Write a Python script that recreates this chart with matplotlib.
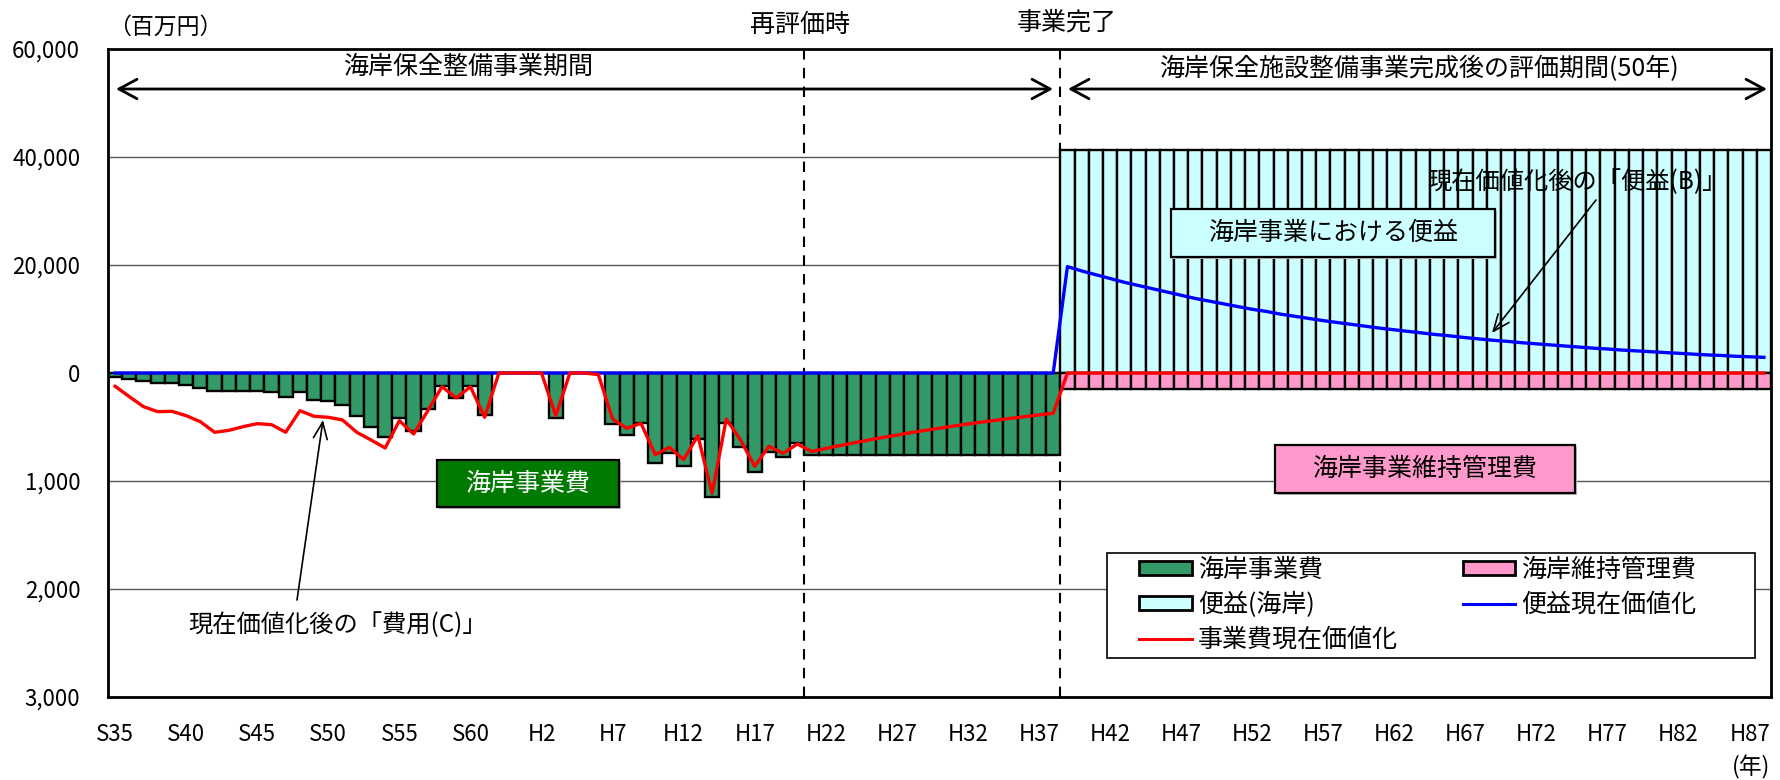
import numpy as np
import matplotlib
matplotlib.use("Agg")
import matplotlib.pyplot as plt
from matplotlib.patches import Patch, Rectangle
from matplotlib.lines import Line2D
from matplotlib.ticker import FuncFormatter, FixedLocator

plt.rcParams['font.family'] = ['Noto Sans CJK JP', 'DejaVu Sans']

# ---------------- data ----------------
# years S35 (1960) ... H88 (2076)
years = list(range(1960, 2077))
tick_labels = ['S35', 'S40', 'S45', 'S50', 'S55', 'S60', 'H2', 'H7', 'H12', 'H17',
               'H22', 'H27', 'H32', 'H37', 'H42', 'H47', 'H52', 'H57', 'H62', 'H67',
               'H72', 'H77', 'H82', 'H87']

# 海岸事業費 (百万円), 1960-2026
project_cost = [34, 56, 77, 93, 93, 108, 139, 170, 170, 170,
                170, 179, 225, 179, 250, 256, 293, 395, 497, 596,
                417, 540, 333, 117, 235, 117, 386, 0, 0, 0,
                0, 417, 0, 0, 0, 472, 571, 466, 836, 744,
                858, 611, 1145, 466, 688, 914, 735, 781, 651, 756,
                756, 756, 756, 756, 756, 756, 756, 756, 756, 756,
                756, 756, 756, 756, 756, 756, 756]

# 便益(海岸) (百万円), 2027-2076
benefit = [41300] * 50
# 海岸維持管理費 (百万円), 2027-2076
maintenance = [150] * 50

# 便益現在価値化 (百万円), 1960-2076
benefit_pv = [0] * 67 + [
    19700, 18900, 18200, 17500, 16800, 16200, 15600, 15000, 14400, 13800,
    13300, 12800, 12300, 11800, 11400, 10900, 10500, 10100, 9700, 9350,
    9000, 8650, 8300, 8000, 7700, 7400, 7100, 6850, 6550, 6300,
    6050, 5850, 5600, 5400, 5200, 5000, 4800, 4600, 4450, 4250,
    4100, 3950, 3800, 3650, 3500, 3350, 3250, 3100, 3000, 2900]

# 事業費現在価値化 (百万円), 1960-2076
cost_pv = [123, 219, 312, 358, 355, 395, 451, 549, 531, 497,
           469, 478, 549, 349, 401, 410, 435, 549, 620, 694,
           441, 565, 349, 127, 231, 127, 410, 0, 0, 0,
           0, 395, 0, 0, 15, 426, 512, 466, 756, 688,
           802, 580, 1114, 426, 620, 864, 679, 744, 657, 727,
           699, 672, 646, 621, 597, 575, 552, 531, 511, 491,
           472, 454, 437, 420, 404, 388, 373] + [0] * 50

# ---------------- figure ----------------
W, H = 1780, 780
fig = plt.figure(figsize=(W / 100, H / 100), dpi=100)


def fx(px):
    return px / W


def fy(py):
    return 1 - py / H


L, R, T, B = 108, 1771, 49, 697
ax = fig.add_axes([fx(L), fy(B), (R - L) / W, (B - T) / H])


def fwd(y):
    y = np.asarray(y, dtype=float)
    return np.where(y >= 0, y, y * 20.0)


def inv(y):
    y = np.asarray(y, dtype=float)
    return np.where(y >= 0, y, y / 20.0)


ax.set_yscale('function', functions=(fwd, inv))
ax.set_ylim(-3000, 60000)
ax.set_xlim(-0.5, len(years) - 0.5)

x_all = np.arange(len(years))
n_cost = len(project_cost)
x_cost = x_all[:n_cost]
x_ben = x_all[n_cost:n_cost + len(benefit)]

GREEN = '#339966'
CYAN = '#CCFFFF'
PINK = '#FF99CC'

ax.bar(x_cost, -np.array(project_cost), width=1.0, color=GREEN,
       edgecolor='black', linewidth=1.7, zorder=2)
ax.bar(x_ben, benefit, width=1.0, color=CYAN,
       edgecolor='black', linewidth=1.7, zorder=2)
ax.bar(x_ben, -np.array(maintenance), width=1.0, color=PINK,
       edgecolor='black', linewidth=1.7, zorder=2)

ax.plot(x_all, benefit_pv, color='#0000FF', lw=2.4, zorder=4)
ax.plot(x_all, -np.array(cost_pv), color='#FF0000', lw=2.4, zorder=5)

# vertical dashed lines: 再評価時 (between H20 and H21), 事業完了
ax.axvline(48.5, color='black', lw=1.5, ls=(0, (5, 4)), zorder=1.5)
ax.axvline(n_cost - 0.5, color='black', lw=1.5, ls=(0, (5, 4)), zorder=1.5)

# axes style
ax.yaxis.set_major_locator(FixedLocator([-3000, -2000, -1000, 0, 20000, 40000, 60000]))
ax.yaxis.set_minor_locator(FixedLocator([]))
ax.yaxis.set_major_formatter(FuncFormatter(lambda v, p: f"{abs(v):,.0f}"))
ax.set_xticks(x_all[::5])
ax.set_xticklabels(tick_labels)
ax.tick_params(axis='y', length=0, pad=20, labelsize=16)
ax.tick_params(axis='x', length=0, pad=19, labelsize=16)
ax.yaxis.grid(True, color='#555555', lw=1.0)
ax.set_axisbelow(True)
for s in ax.spines.values():
    s.set_linewidth(2.0)
    s.set_color('black')

# ---------------- annotations ----------------
FS = 18
fig.text(fx(165), fy(27), '（百万円）', fontsize=16.5, ha='center', va='center')
fig.text(fx(800), fy(25), '再評価時', fontsize=FS, ha='center', va='center')
fig.text(fx(1067), fy(23), '事業完了', fontsize=FS, ha='center', va='center')
fig.text(fx(468), fy(67), '海岸保全整備事業期間', fontsize=FS, ha='center', va='center')
fig.text(fx(1419), fy(69), '海岸保全施設整備事業完成後の評価期間(50年)', fontsize=FS,
         ha='center', va='center')
fig.text(fx(1770), fy(767), '(年)', fontsize=16.5, ha='right', va='center')

arrow_kw = dict(arrowstyle='<->,head_length=1.3,head_width=0.7', lw=2.0,
                color='black', shrinkA=0, shrinkB=0, mutation_scale=10)
ax.annotate('', xy=(fx(116), fy(89)), xytext=(fx(1053), fy(89)),
            xycoords='figure fraction', textcoords='figure fraction',
            arrowprops=arrow_kw, zorder=6)
ax.annotate('', xy=(fx(1068), fy(89)), xytext=(fx(1767), fy(89)),
            xycoords='figure fraction', textcoords='figure fraction',
            arrowprops=arrow_kw, zorder=6)


# boxed labels
def box_label(x0, y0, x1, y1, text, fc, tc):
    fig.add_artist(Rectangle((fx(x0) + 2 / W, fy(y1) - 2 / H), (x1 - x0) / W, (y1 - y0) / H,
                             transform=fig.transFigure, facecolor='#bbbbbb',
                             edgecolor='none', zorder=9))
    fig.add_artist(Rectangle((fx(x0), fy(y1)), (x1 - x0) / W, (y1 - y0) / H,
                             transform=fig.transFigure, facecolor=fc,
                             edgecolor='black', lw=1.6, zorder=10))
    fig.text(fx((x0 + x1) / 2), fy((y0 + y1) / 2), text, fontsize=FS,
             ha='center', va='center', color=tc, zorder=11)


box_label(437, 460, 619, 507, '海岸事業費', '#007A00', 'white')
box_label(1171, 209, 1495, 257, '海岸事業における便益', CYAN, 'black')
box_label(1275, 445, 1575, 493, '海岸事業維持管理費', PINK, 'black')

# callouts
fig.text(fx(1577), fy(182), '現在価値化後の「便益(B)」', fontsize=17.5,
         ha='center', va='center', zorder=11)
fig.text(fx(338), fy(625), '現在価値化後の「費用(C)」', fontsize=17.5,
         ha='center', va='center', zorder=11)
call_kw = dict(arrowstyle='->,head_length=1.2,head_width=0.5', lw=1.2,
               color='black', shrinkA=0, shrinkB=0, mutation_scale=10)
ax.annotate('', xy=(fx(1492), fy(333)), xytext=(fx(1596), fy(200)),
            xycoords='figure fraction', textcoords='figure fraction',
            arrowprops=call_kw, zorder=8)
ax.annotate('', xy=(fx(323), fy(420)), xytext=(fx(297), fy(600)),
            xycoords='figure fraction', textcoords='figure fraction',
            arrowprops=call_kw, zorder=8)

# legend: frame drawn separately, entries placed inside
fig.add_artist(Rectangle((fx(1107), fy(658)), (1755 - 1107) / W, (658 - 553) / H,
                         transform=fig.transFigure, facecolor='white',
                         edgecolor='black', lw=1.2, zorder=11))
handles = [
    Patch(facecolor=GREEN, edgecolor='black', lw=2, label='海岸事業費'),
    Patch(facecolor=CYAN, edgecolor='black', lw=2, label='便益(海岸)'),
    Line2D([], [], color='#FF0000', lw=2.2, label='事業費現在価値化'),
    Patch(facecolor=PINK, edgecolor='black', lw=2, label='海岸維持管理費'),
    Line2D([], [], color='#0000FF', lw=2.2, label='便益現在価値化'),
]
leg = fig.legend(handles=handles, ncol=2, loc='upper left',
                 bbox_to_anchor=(fx(1139), fy(557)),
                 bbox_transform=fig.transFigure, borderaxespad=0, fontsize=FS,
                 frameon=False, borderpad=0, labelspacing=0.35, handlelength=2.1,
                 handleheight=0.5, handletextpad=0.25, columnspacing=2.6)
leg.set_zorder(12)

fig.savefig('out.png', dpi=100)
